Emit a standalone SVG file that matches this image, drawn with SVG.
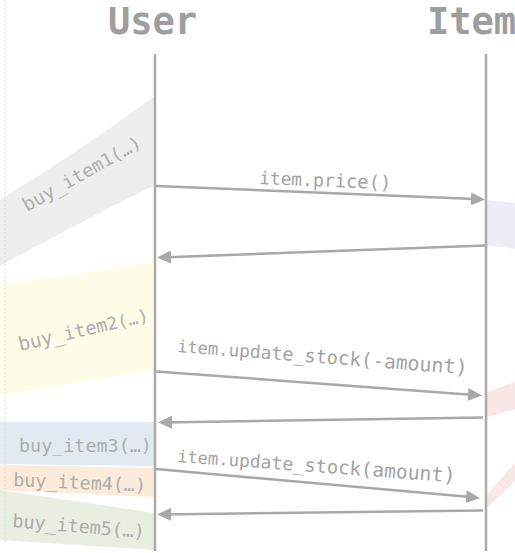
<svg xmlns="http://www.w3.org/2000/svg" width="515" height="553" viewBox="0 0 515 553">
  <defs>
    <style>
      .title { font-family: "DejaVu Sans Mono", "Liberation Mono", monospace; font-weight: bold; font-size: 37px; fill: #9e9e9e; }
      .msg { font-family: "DejaVu Sans Mono", "Liberation Mono", monospace; font-size: 18.5px; fill: #a3a3a3; }
      .call { font-family: "DejaVu Sans Mono", "Liberation Mono", monospace; font-size: 18.4px; fill: #adadad; }
      .lifeline { stroke: #ababab; stroke-width: 2.5; fill: none; }
      .arrow { stroke: #a8a8a8; stroke-width: 2.5; fill: none; marker-end: url(#head); }
    </style>
    <marker id="head" markerUnits="userSpaceOnUse" markerWidth="14" markerHeight="13" refX="10" refY="6.5" orient="auto">
      <path d="M0,0 L14,6.5 L0,13 Z" fill="#a8a8a8"/>
    </marker>
  </defs>

  <rect width="515" height="553" fill="#ffffff"/>

  <!-- incoming call bands on the caller side -->
  <g id="bands-left">
    <path d="M155,96 Q78,152 0,200 L0,266 Q80,222 155,185 Z" fill="#eeeeee"/>
    <path d="M0,285 L155,262 L155,370 L0,395 Z" fill="#fffde8"/>
    <path d="M0,422 L155,422 L155,466 L0,464 Z" fill="#e1eaf3"/>
    <path d="M0,465 L155,468 L155,497 L0,490 Z" fill="#fcebda"/>
    <path d="M0,490 L155,513 L155,550 L0,540 Z" fill="#e8efe1"/>
  </g>

  <!-- outgoing bands on the callee side -->
  <g id="bands-right">
    <path d="M487,200 L515,203 L515,249 L487,245 Z" fill="#ededf8"/>
    <path d="M487,392 L515,382 L515,409 L487,417 Z" fill="#f9e7e7"/>
    <path d="M487,495 L515,463 L515,481 L487,508 Z" fill="#f9e7e7"/>
  </g>

  <line x1="5" y1="0" x2="5" y2="543" stroke="#dedede" stroke-width="1" stroke-dasharray="2,2"/>

  <g id="user">
    <text class="title" x="108" y="34">User</text>
    <line class="lifeline" x1="155" y1="54" x2="155" y2="551"/>
  </g>

  <g id="item">
    <text class="title" x="427" y="34">Item</text>
    <line class="lifeline" x1="486" y1="54" x2="486" y2="551"/>
  </g>

  <!-- call labels; glyph size drifts along the band -->
  <g id="calls">
    <text class="call" transform="translate(27,212) rotate(-29.5)"><tspan font-size="18.9">buy_</tspan><tspan font-size="18.4">item</tspan><tspan font-size="17.9">1(…)</tspan></text>
    <text class="call" transform="translate(20,351) rotate(-13)"><tspan font-size="19.3">buy_</tspan><tspan font-size="18.4">item</tspan><tspan font-size="17.5">2(…)</tspan></text>
    <text class="call" x="19" y="452">buy_item3(…)</text>
    <text class="call" transform="translate(13,486) rotate(2.5)">buy_item4(…)</text>
    <text class="call" transform="translate(12,527) rotate(4.8)">buy_item5(…)</text>
  </g>

  <g id="connectors">
    <line class="arrow" x1="156" y1="186" x2="481" y2="199.3"/>
    <line class="arrow" x1="485" y1="245.5" x2="161" y2="257.4"/>
    <line class="arrow" x1="156" y1="371.5" x2="478" y2="395.2"/>
    <line class="arrow" x1="483" y1="417.5" x2="162" y2="422.4"/>
    <line class="arrow" x1="156" y1="469" x2="476" y2="497.6"/>
    <line class="arrow" x1="483" y1="510.5" x2="161" y2="514.45"/>
    <text class="msg" transform="translate(259,184) rotate(2.3)"><tspan font-size="17.8">item</tspan><tspan font-size="18.3">.pri</tspan><tspan font-size="18.8">ce()</tspan></text>
    <text class="msg" transform="translate(177,352) rotate(4.4)"><tspan font-size="16.9">ite</tspan><tspan font-size="17.4">m.u</tspan><tspan font-size="17.9">pda</tspan><tspan font-size="18.3">te_</tspan><tspan font-size="18.7">sto</tspan><tspan font-size="19.1">ck(</tspan><tspan font-size="19.5">-am</tspan><tspan font-size="19.9">oun</tspan><tspan font-size="20.3">t)</tspan></text>
    <text class="msg" transform="translate(177,462) rotate(4.2)"><tspan font-size="16.9">ite</tspan><tspan font-size="17.4">m.u</tspan><tspan font-size="17.9">pda</tspan><tspan font-size="18.3">te_</tspan><tspan font-size="18.7">sto</tspan><tspan font-size="19.1">ck(</tspan><tspan font-size="19.5">amo</tspan><tspan font-size="19.9">unt</tspan><tspan font-size="20.2">)</tspan></text>
  </g>
</svg>
